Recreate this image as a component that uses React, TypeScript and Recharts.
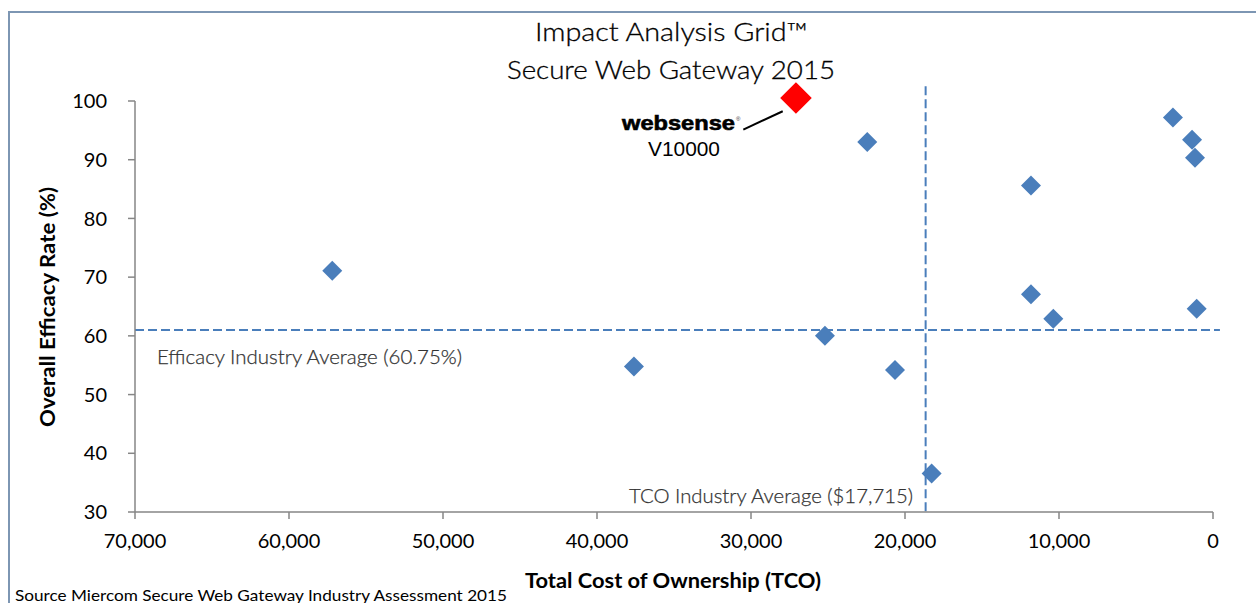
import React from 'react';
import { ScatterChart, Scatter, XAxis, YAxis, ReferenceLine, ReferenceDot } from 'recharts';

// Total cost of ownership ($) and overall efficacy (%) for each tested product
const tcoValues = [22450, 2600, 1360, 1170, 11820, 57190, 11820, 10370, 1060, 25200, 37600, 20650, 18270];
const efficacyValues = [93.0, 97.2, 93.4, 90.35, 85.6, 71.1, 67.1, 62.9, 64.6, 60.0, 54.8, 54.2, 36.55];

// Highlighted product (Websense V10000)
const highlightTco = [27080];
const highlightEfficacy = [100.5];

// Industry averages (as drawn)
const tcoAverage = 18660;
const efficacyAverage = 61.0;

// Callout line from label to highlighted point
const calloutTco = [30500, 27940];
const calloutEfficacy = [95.13, 98.25];

const xTicks = [0, 10000, 20000, 30000, 40000, 50000, 60000, 70000];
const yTicks = [30, 40, 50, 60, 70, 80, 90, 100];

const points = tcoValues.map((x, i) => ({ x, y: efficacyValues[i] }));

const BLUE = '#4a7ebb';
const AXIS = '#868686';
const FONT = 'Lato, "Open Sans", sans-serif';

const Diamond = (props: any) => {
  const { cx, cy } = props;
  const h = 10;
  return (
    <polygon
      points={`${cx},${cy - h} ${cx + h},${cy} ${cx},${cy + h} ${cx - h},${cy}`}
      fill={BLUE}
    />
  );
};

const RedDiamond = (props: any) => {
  const { cx, cy } = props;
  const h = 15.8;
  return (
    <polygon
      points={`${cx},${cy - h} ${cx + h},${cy} ${cx},${cy + h} ${cx - h},${cy}`}
      fill="#ff0000"
    />
  );
};

export default function App() {
  return (
    <div style={{ position: 'absolute', left: 0, top: 0, width: 1256, height: 603, background: '#fff', overflow: 'hidden' }}>
      <ScatterChart
        width={1256}
        height={603}
        margin={{ top: 101, right: 43, bottom: 31, left: 0 }}
      >
        <XAxis
          type="number"
          dataKey="x"
          domain={[0, 70000]}
          reversed
          ticks={xTicks}
          interval={0}
          height={60}
          tickFormatter={(v: number) => v.toLocaleString('en-US')}
          axisLine={{ stroke: AXIS, strokeWidth: 1.5 }}
          tickLine={{ stroke: AXIS, strokeWidth: 1.5 }}
          tickSize={7}
          tickMargin={15}
          tick={{ fill: '#000', fontSize: 20, fontFamily: FONT }}
        />
        <YAxis
          type="number"
          dataKey="y"
          domain={[30, 100]}
          ticks={yTicks}
          interval={0}
          width={135}
          axisLine={{ stroke: AXIS, strokeWidth: 1.5 }}
          tickLine={{ stroke: AXIS, strokeWidth: 1.5 }}
          tickSize={7}
          tickMargin={21}
          tick={{ fill: '#000', fontSize: 20, fontFamily: FONT }}
        />
        <ReferenceLine
          segment={[{ x: 70000, y: efficacyAverage }, { x: -450, y: efficacyAverage }]}
          stroke={BLUE}
          strokeWidth={2}
          strokeDasharray="9 4"
          ifOverflow="visible"
        />
        <ReferenceLine
          segment={[{ x: tcoAverage, y: 102.5 }, { x: tcoAverage, y: 30 }]}
          stroke={BLUE}
          strokeWidth={2}
          strokeDasharray="9 4"
          ifOverflow="visible"
        />
        <ReferenceLine
          segment={[{ x: calloutTco[0], y: calloutEfficacy[0] }, { x: calloutTco[1], y: calloutEfficacy[1] }]}
          stroke="#000"
          strokeWidth={2}
          ifOverflow="visible"
        />
        <Scatter data={points} shape={Diamond} isAnimationActive={false} />
        <ReferenceDot
          x={highlightTco[0]}
          y={highlightEfficacy[0]}
          r={16}
          shape={RedDiamond}
          ifOverflow="visible"
        />
      </ScatterChart>
      <svg
        width={1256}
        height={603}
        style={{ position: 'absolute', left: 0, top: 0, pointerEvents: 'none' }}
      >
        <line x1={8} y1={12} x2={1256} y2={12} stroke="#7d96b3" strokeWidth={2} />
        <line x1={9} y1={11} x2={9} y2={603} stroke="#7d96b3" strokeWidth={2} />
        <text x={671.5} y={41} textAnchor="middle" fontFamily={FONT} fontWeight={300} fontSize={25} fill="#000" stroke="#000" strokeWidth={0.3} textLength={273} lengthAdjust="spacingAndGlyphs">Impact Analysis Grid™</text>
        <text x={671} y={79} textAnchor="middle" fontFamily={FONT} fontWeight={300} fontSize={25} fill="#000" stroke="#000" strokeWidth={0.3} textLength={328} lengthAdjust="spacingAndGlyphs">Secure Web Gateway 2015</text>
        <text x={157} y={364} fontFamily={FONT} fontWeight={300} fontSize={20} fill="#333" stroke="#333" strokeWidth={0.25} textLength={305} lengthAdjust="spacingAndGlyphs">Efficacy Industry Average (60.75%)</text>
        <text x={629} y={503} fontFamily={FONT} fontWeight={300} fontSize={20} fill="#333" stroke="#333" strokeWidth={0.25} textLength={284} lengthAdjust="spacingAndGlyphs">TCO Industry Average ($17,715)</text>
        <text x={622} y={130} fontFamily='"Liberation Sans", Arial, sans-serif' fontWeight={900} fontSize={20} fill="#000" stroke="#000" strokeWidth={0.6} textLength={113} lengthAdjust="spacingAndGlyphs">websense</text>
        <text x={736} y={121} fontFamily='"Liberation Sans", Arial, sans-serif' fontSize={6} fill="#333">®</text>
        <text x={684} y={156} textAnchor="middle" fontFamily='"Liberation Sans", Arial, sans-serif' fontSize={20} fill="#000" textLength={72} lengthAdjust="spacingAndGlyphs">V10000</text>
        <text x={673} y={588} textAnchor="middle" fontFamily={FONT} fontWeight={700} fontSize={20} fill="#000" textLength={296} lengthAdjust="spacingAndGlyphs">Total Cost of Ownership (TCO)</text>
        <text x={55} y={307} textAnchor="middle" transform="rotate(-90 55 307)" fontFamily={FONT} fontWeight={700} fontSize={20} fill="#000" textLength={240} lengthAdjust="spacingAndGlyphs">Overall Efficacy Rate (%)</text>
        <text x={15} y={601} fontFamily={FONT} fontSize={16} fill="#000" textLength={492} lengthAdjust="spacingAndGlyphs">Source Miercom Secure Web Gateway Industry Assessment 2015</text>
      </svg>
    </div>
  );
}
